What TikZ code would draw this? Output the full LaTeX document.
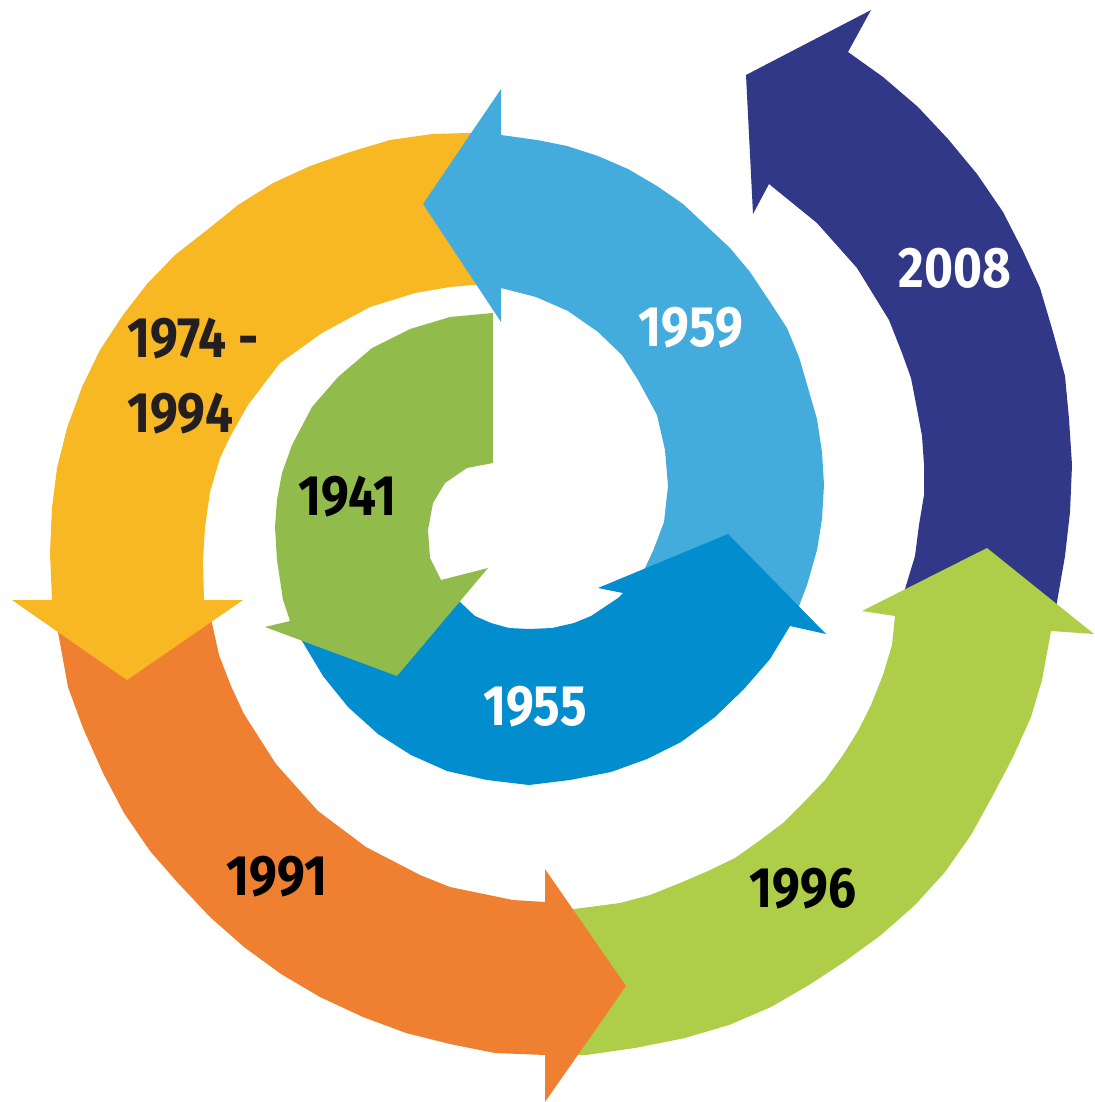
\documentclass[tikz,border=0pt]{standalone}
\usepackage{fontspec}
\setsansfont{Fira Sans}
\usepackage{xcolor}
\usepackage{tikz}
\definecolor{navyband}{HTML}{303887}
\definecolor{limeband}{HTML}{AECE49}
\definecolor{orangeband}{HTML}{F08031}
\definecolor{yellowband}{HTML}{F8B824}
\definecolor{skyband}{HTML}{44ACDC}
\definecolor{blueband}{HTML}{028DCF}
\definecolor{greenband}{HTML}{91BC4B}
\definecolor{darktext}{HTML}{231F20}
\newcommand{\yr}[1]{\scalebox{0.87}[1]{#1}}
\tikzset{year/.style={font=\sffamily\bfseries\fontsize{57}{75}\selectfont,inner sep=0pt}}

\begin{document}
\begin{tikzpicture}[x=1pt,y=-1pt]
\useasboundingbox (0,0) rectangle (1094,1102);
\fill[navyband] (1051,631) -- (1057,602) -- (1065,556) -- (1070,512) -- (1072,465) -- (1069,419)
  -- (1065,376) -- (1053,332) -- (1040,288) -- (1023,251) -- (1003,212) -- (977,174) -- (948,139)
  -- (918,107) -- (883,77) -- (848,52) -- (871,10) -- (746,75) -- (753,214) -- (769,184)
  -- (817,223) -- (857,268) -- (889,320) -- (902,353) -- (911,378) -- (917,409) -- (922,436)
  -- (924,465) -- (924,495) -- (919,525) -- (915,556) -- (905,589) -- (897,618) -- cycle;
\fill[limeband] (550,1056) -- (586,1055) -- (635,1048) -- (685,1038) -- (729,1025) -- (771,1007)
  -- (809,985) -- (844,962) -- (881,935) -- (915,905) -- (945,872) -- (971,835) -- (992,797)
  -- (1013,757) -- (1031,717) -- (1042,680) -- (1051,631) -- (1094,634) -- (987,548) -- (862,611)
  -- (895,616) -- (892,645) -- (883,675) -- (871,705) -- (858,731) -- (843,755) -- (825,780)
  -- (805,801) -- (783,823) -- (759,841) -- (735,858) -- (708,871) -- (680,883) -- (650,895)
  -- (620,903) -- (574,909) -- (550,911) -- cycle;
\fill[orangeband] (54,603) -- (58,632) -- (68,687) -- (83,728) -- (103,773) -- (124,813) -- (150,851)
  -- (178,883) -- (210,917) -- (244,947) -- (281,974) -- (320,997) -- (363,1017) -- (406,1033)
  -- (450,1044) -- (495,1053) -- (545,1055) -- (545,1102) -- (626,986) -- (545,869) -- (545,902)
  -- (513,900) -- (450,887) -- (420,875) -- (366,847) -- (318,811) -- (276,764) -- (244,714)
  -- (231,686) -- (219,655) -- (212,623) -- (207,603) -- cycle;
\fill[yellowband] (495,133) -- (470,133) -- (432,134) -- (390,140) -- (350,152) -- (310,166)
  -- (273,183) -- (238,205) -- (207,230) -- (175,255) -- (147,284) -- (123,315) -- (100,350)
  -- (82,387) -- (67,428) -- (57,468) -- (52,508) -- (50,553) -- (52,600) -- (12,600) -- (127,680)
  -- (243,600) -- (204,600) -- (203,560) -- (205,527) -- (210,492) -- (220,458) -- (230,437)
  -- (248,405) -- (280,363) -- (322,333) -- (370,307) -- (415,293) -- (450,287) -- (473,285)
  -- (495,285) -- cycle;
\fill[skyband] (793,622) -- (799,606) -- (807,585) -- (817,550) -- (822,519) -- (824,485) -- (822,452)
  -- (817,419) -- (808,388) -- (799,357) -- (787,328) -- (770,302) -- (750,272) -- (730,248)
  -- (683,204) -- (657,186) -- (628,169) -- (598,156) -- (567,146) -- (537,140) -- (501,135)
  -- (501,89) -- (423,204) -- (501,322) -- (501,288) -- (536,297) -- (568,311) -- (598,332)
  -- (622,355) -- (638,380) -- (657,415) -- (665,450) -- (668,486) -- (664,522) -- (653,551)
  -- (645,568) -- (630,590) -- cycle;
\fill[blueband] (292,622) -- (302,641) -- (323,676) -- (348,707) -- (378,734) -- (411,755) -- (447,771)
  -- (487,780) -- (529,785) -- (570,780) -- (611,772) -- (647,759) -- (681,742) -- (715,717)
  -- (744,689) -- (770,659) -- (790,626) -- (826,634) -- (728,534) -- (598,588) -- (623,593)
  -- (618,598) -- (609,604) -- (591,616) -- (574,623) -- (552,628) -- (529,629) -- (509,628)
  -- (491,623) -- (475,616) -- (461,603) -- (445,585) -- cycle;
\fill[greenband] (493,313) -- (450,317) -- (410,329) -- (372,348) -- (338,377) -- (312,407)
  -- (292,445) -- (282,473) -- (277,500) -- (275,527) -- (277,560) -- (283,600) -- (290,621)
  -- (265,627) -- (397,676) -- (488,568) -- (441,580) -- (430,558) -- (428,530) -- (433,503)
  -- (445,483) -- (467,468) -- (493,463) -- cycle;
\node[year,text=white] (y2008) at (955,268.5) {\yr{2008}};
\node[year,text=white] (y1959) at (691,328) {\yr{1959}};
\node[year,text=white] (y1955) at (535,706.5) {\yr{1955}};
\node[year,text=black] (y1941) at (347.5,497) {\yr{1941}};
\node[year,text=black] (y1991) at (277,877) {\yr{1991}};
\node[year,text=black] (y1996) at (803,889) {\yr{1996}};
\node[year,text=darktext,anchor=base west] (y1974) at (127,357)
  {\yr{\begin{tabular}[t]{@{}l@{}}1974 -\\1994\end{tabular}}};
\end{tikzpicture}
\end{document}
